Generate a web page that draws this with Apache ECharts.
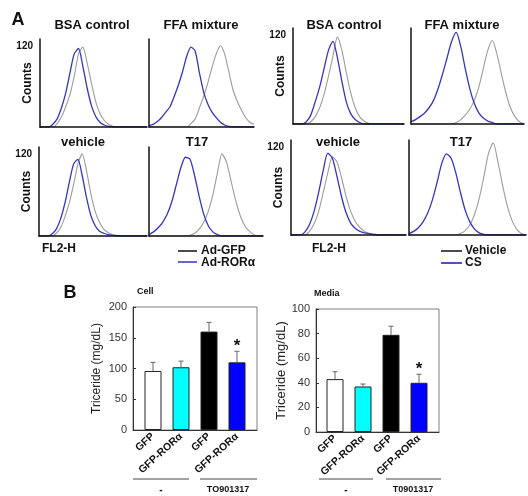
<!DOCTYPE html>
<html><head><meta charset="utf-8">
<script src="https://cdn.jsdelivr.net/npm/echarts@6/dist/echarts.min.js"></script>
<style>html,body{margin:0;padding:0;background:#fff}#c{width:528px;height:496px}</style>
</head><body><div id="c"></div>
<script>
// ---------- DATA ----------
const channels = [0,4,8,12,16,20,24,28,32,36,40,44,48,52,56,60,64,68,72,76,80,84,88,92,96,100];
// left half (Ad-GFP grey / Ad-RORa blue)
const bsaLeftBlue  = [0,0,0,4,12,28,50,80,108,116,90,58,32,16,7,3,1,0,0,0,0,0,0,0,0,0];
const bsaLeftGrey  = [0,0,0,0,5,15,30,48,75,108,118,95,65,38,20,10,4,1,0,0,0,0,0,0,0,0];
const ffaLeftBlue  = [2,4,8,14,22,30,45,62,82,105,118,112,80,52,34,22,14,7,3,1,0,0,0,0,0,0];
const ffaLeftGrey  = [0,0,0,0,0,0,0,0,0,0,5,12,28,45,65,88,108,120,108,82,55,38,25,14,7,4];
const vehLeftBlue  = [0,0,0,3,10,25,48,78,105,112,88,56,30,15,7,4,2,1,0,0,0,0,0,0,0,0];
const vehLeftGrey  = [0,0,0,0,4,12,28,48,75,105,120,95,62,36,20,10,5,2,1,0,0,0,0,0,0,0];
const t17LeftBlue  = [2,6,12,20,32,50,75,100,115,112,88,58,32,15,6,2,0,0,0,0,0,0,0,0,0,0];
const t17LeftGrey  = [0,0,0,0,0,0,0,0,0,1,4,10,20,36,60,92,120,108,80,52,30,15,7,2,0,0];
// right half (Vehicle grey / CS blue)
const bsaRightBlue = [0,0,0,3,12,30,50,75,100,112,90,58,30,14,6,2,0,0,0,0,0,0,0,0,0,0];
const bsaRightGrey = [0,0,0,0,3,10,22,40,65,92,118,100,70,42,22,10,4,1,0,0,0,0,0,0,0,0];
const ffaRightBlue = [3,6,10,15,22,32,48,68,90,112,124,105,75,48,28,15,8,4,2,0,0,0,0,0,0,0];
const ffaRightGrey = [0,0,0,0,0,0,0,0,0,0,2,6,12,20,32,50,75,100,113,95,68,42,22,10,3,0];
const vehRightBlue = [0,0,0,4,14,32,58,88,112,105,80,52,30,16,9,5,3,2,1,0,0,0,0,0,0,0];
const vehRightGrey = [0,0,0,0,5,15,32,58,85,107,100,78,52,32,18,10,5,2,0,0,0,0,0,0,0,0];
const t17RightBlue = [2,5,10,18,30,48,72,98,111,105,85,58,34,18,8,3,1,0,0,0,0,0,0,0,0,0];
const t17RightGrey = [0,0,0,0,0,0,0,0,0,0,0,2,6,14,28,50,80,112,126,100,68,40,20,8,2,0];

const barCats   = ['GFP','GFP-ROR\u03b1','GFP','GFP-ROR\u03b1'];
const cellMean  = [96,102,160,110];
const cellErr   = [110,112,175,128];
const mediaMean = [43,37,79,40];
const mediaErr  = [49,39,86,47];
const sigMarks  = ['','','','*'];

// ---------- STYLE / LAYOUT ----------
const FONT = '"Liberation Sans", Arial, sans-serif';
const BLUE = '#3535c4', GREY = '#9c9c9c';
const barColors = ['#ffffff','#00ffff','#000000','#0000ff'];
const histPanels = [
  {blue:bsaLeftBlue, grey:bsaLeftGrey, left:40,  top:39,  w:107, h:88, lab:true},
  {blue:ffaLeftBlue, grey:ffaLeftGrey, left:149, top:39,  w:105, h:88, lab:false},
  {blue:vehLeftBlue, grey:vehLeftGrey, left:39,  top:147, w:108, h:89, lab:true},
  {blue:t17LeftBlue, grey:t17LeftGrey, left:149, top:147, w:114, h:89, lab:false},
  {blue:bsaRightBlue,grey:bsaRightGrey,left:293, top:28,  w:111, h:96, lab:true},
  {blue:ffaRightBlue,grey:ffaRightGrey,left:411, top:28,  w:113, h:96, lab:false},
  {blue:vehRightBlue,grey:vehRightGrey,left:291, top:140, w:115, h:95, lab:true},
  {blue:t17RightBlue,grey:t17RightGrey,left:409, top:140, w:117, h:95, lab:false}
];

const grid = [], xAxis = [], yAxis = [], series = [];
const pair = arr => channels.map((c,i)=>[c, arr[i]]);
histPanels.forEach((p,i)=>{
  grid.push({left:p.left, top:p.top, width:p.w, height:p.h});
  const axLine = {show:true, lineStyle:{color:'#111', width:1.5}};
  xAxis.push({gridIndex:i, type:'value', min:0, max:100, z:5, axisLine:axLine,
    axisTick:{show:false}, axisLabel:{show:false}, splitLine:{show:false}});
  yAxis.push({gridIndex:i, type:'value', min:0, max:130, interval:120, z:5, axisLine:axLine,
    axisTick:{show:false}, splitLine:{show:false},
    axisLabel:{show:p.lab, formatter:v=> v===120 ? '120' : '', fontFamily:FONT, fontWeight:'bold', fontSize:10, color:'#111', margin:7},
    name:p.lab ? 'Counts' : '', nameLocation:'middle', nameGap:6, nameMoveOverlap:false,
    nameTextStyle:{fontFamily:FONT, fontWeight:'bold', fontSize:12, color:'#111'}});
  series.push({type:'line', xAxisIndex:i, yAxisIndex:i, data:pair(p.grey), showSymbol:false, smooth:0.25,
    lineStyle:{color:GREY, width:1.1}, silent:true, animation:false});
  series.push({type:'line', xAxisIndex:i, yAxisIndex:i, data:pair(p.blue), showSymbol:false, smooth:0.25,
    lineStyle:{color:BLUE, width:1.3}, silent:true, animation:false});
});

function addBarChart(outer, inner, means, errs, ymax, yint, nameSize, nameGap){
  const gi = grid.length;
  grid.push({left:outer.left, top:outer.top, width:outer.w, height:outer.h, show:true, borderColor:'#808080', borderWidth:1});
  grid.push({left:inner.left, top:outer.top, width:inner.w, height:outer.h});
  xAxis.push({gridIndex:gi, type:'value', min:0, max:1, axisLine:{show:true, lineStyle:{color:'#333'}},
    axisTick:{show:false}, axisLabel:{show:false}, splitLine:{show:false}});
  yAxis.push({gridIndex:gi, type:'value', min:0, max:ymax, interval:yint,
    axisLine:{show:true, lineStyle:{color:'#333'}}, axisTick:{show:true, inside:true, length:3, lineStyle:{color:'#333'}},
    splitLine:{show:false}, axisLabel:{fontFamily:FONT, fontSize:11, color:'#333', margin:6},
    name:'Triceride (mg/dL)', nameLocation:'middle', nameGap:nameGap, nameMoveOverlap:false,
    nameTextStyle:{fontFamily:FONT, fontSize:nameSize, color:'#222'}});
  xAxis.push({gridIndex:gi+1, type:'category', data:barCats, boundaryGap:true,
    axisLine:{show:false}, axisTick:{show:false},
    axisLabel:{rotate:42, interval:0, margin:5, fontFamily:FONT, fontWeight:'bold', fontSize:10.5, color:'#111'}});
  yAxis.push({gridIndex:gi+1, type:'value', min:0, max:ymax, show:false});
  series.push({type:'bar', xAxisIndex:gi+1, yAxisIndex:gi+1, barWidth:17, animation:false,
    data:means.map((m,i)=>({value:m, itemStyle:{color:barColors[i], borderColor:'#222', borderWidth:1}}))});
  series.push({type:'custom', xAxisIndex:gi+1, yAxisIndex:gi+1, z:4, animation:false,
    encode:{x:0, y:[1,2]},
    data:means.map((m,i)=>[i, m, errs[i]]),
    renderItem:(params, api)=>{
      const idx = api.value(0);
      const b = api.coord([idx, api.value(1)]);
      const t = api.coord([idx, api.value(2)]);
      const ch = [
        {type:'line', shape:{x1:b[0], y1:b[1], x2:t[0], y2:t[1]}, style:{stroke:'#666', lineWidth:1}},
        {type:'line', shape:{x1:t[0]-2.5, y1:t[1], x2:t[0]+2.5, y2:t[1]}, style:{stroke:'#666', lineWidth:1}}
      ];
      if (sigMarks[idx]) ch.push({type:'text', style:{text:sigMarks[idx], x:t[0], y:t[1]-5,
        font:'bold 17px '+FONT, fill:'#111', align:'center', verticalAlign:'middle'}});
      return {type:'group', children:ch};
    }});
}
addBarChart({left:133, top:307, w:124, h:123}, {left:139, w:112}, cellMean, cellErr, 200, 50, 12, 30);
addBarChart({left:316, top:309, w:123, h:123}, {left:321, w:112}, mediaMean, mediaErr, 100, 20, 13, 28);

// ---------- ANNOTATIONS ----------
const txt = (text, x, y, size, weight, align) => ({type:'text', silent:true,
  style:{text, x, y, font:(weight||'bold')+' '+size+'px '+FONT, fill:'#111', align:align||'center', verticalAlign:'middle'}});
const ln = (x1,y1,x2,y2,c,w) => ({type:'line', silent:true, shape:{x1,y1,x2,y2}, style:{stroke:c||'#222', lineWidth:w||1}});
const graphic = [
  txt('A', 18, 20, 18),
  txt('BSA control', 92, 25, 13), txt('FFA mixture', 201, 25, 13),
  txt('vehicle', 83, 142, 13), txt('T17', 197, 142, 13),
  txt('FL2-H', 59, 249, 12),
  ln(178,251,197,251,'#111',1.5), txt('Ad-GFP', 201, 251, 12, 'bold', 'left'),
  ln(178,262,197,262,BLUE,1.5), txt('Ad-ROR\u03b1', 201, 263, 12, 'bold', 'left'),
  txt('BSA control', 344, 25, 13), txt('FFA mixture', 462, 25, 13),
  txt('vehicle', 338, 142, 13), txt('T17', 461, 142, 13),
  txt('FL2-H', 329, 249, 12),
  ln(441,251,462,251,'#111',1.5), txt('Vehicle', 465, 251, 12, 'bold', 'left'),
  ln(441,263,462,263,'#1a1aa0',1.5), txt('CS', 465, 263, 12, 'bold', 'left'),
  txt('B', 70, 293, 18),
  txt('Cell', 137, 292, 9, 'bold', 'left'),
  txt('Media', 314, 294, 9, 'bold', 'left'),
  ln(133,479,189,479,'#444',1), ln(200,479,257,479,'#444',1),
  txt('-', 161, 490, 10), txt('TO901317', 228, 490, 9),
  ln(319,479,373,479,'#444',1), ln(386,479,441,479,'#444',1),
  txt('-', 346, 490, 10), txt('T0901317', 413, 490, 9)
];

const chart = echarts.init(document.getElementById('c'), null, {renderer:'canvas'});
chart.setOption({animation:false, backgroundColor:'#fff', textStyle:{fontFamily:FONT},
  grid, xAxis, yAxis, series, graphic});
</script></body></html>
